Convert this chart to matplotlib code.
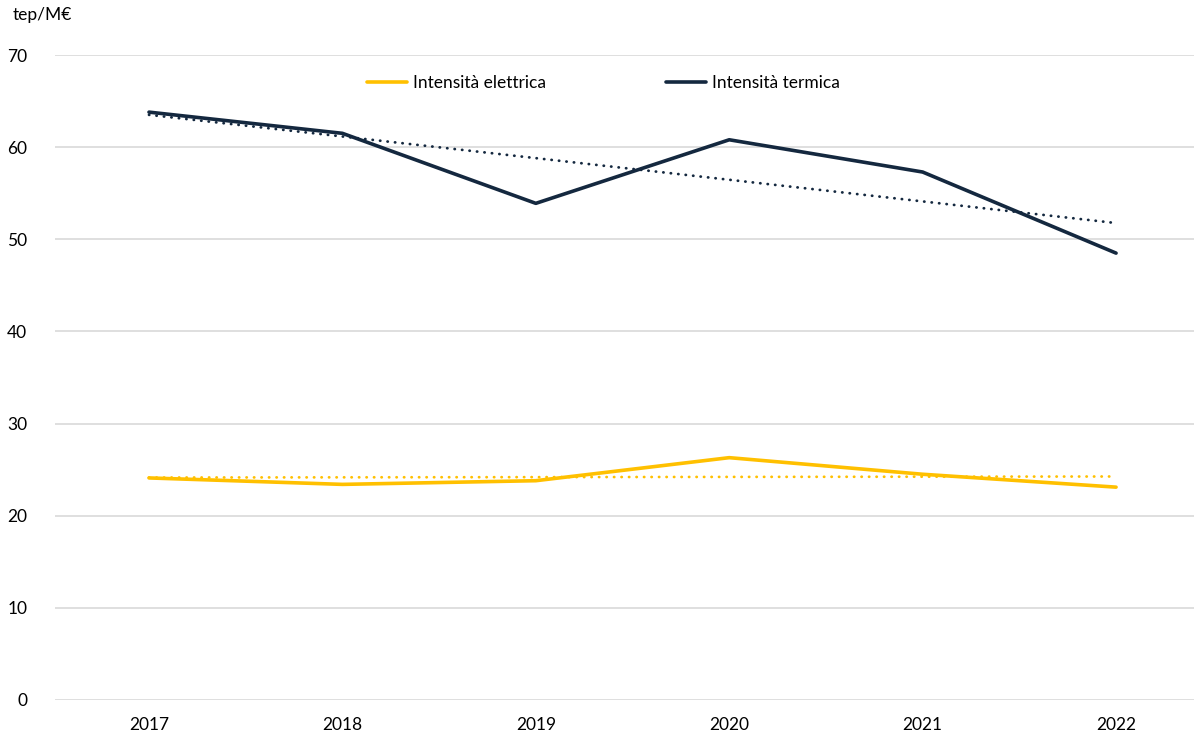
import numpy as np
import matplotlib.pyplot as plt

plt.rcParams['font.family'] = ['Lato', 'DejaVu Sans']

years = ['2017', '2018', '2019', '2020', '2021', '2022']
intensita_elettrica = [24.1, 23.4, 23.8, 26.3, 24.5, 23.1]
intensita_termica = [63.8, 61.5, 53.9, 60.8, 57.3, 48.5]

giallo = '#FFC000'
blu = '#14283F'
griglia = '#D9D9D9'

x = np.arange(len(years))

fig = plt.figure(figsize=(11.94, 7.35), dpi=100)
ax = fig.add_axes([55 / 1194, 35 / 735, 1139 / 1194, 645 / 735])

ax.plot(x, intensita_elettrica, color=giallo, lw=2.6, label='Intensità elettrica',
        solid_capstyle='round', zorder=3)
ax.plot(x, intensita_termica, color=blu, lw=2.6, label='Intensità termica',
        solid_capstyle='round', zorder=3)

# linear trend lines
for serie, col in [(intensita_elettrica, giallo), (intensita_termica, blu)]:
    m, q = np.polyfit(x, serie, 1)
    ax.plot(x, m * x + q, color=col, lw=2.0, linestyle=(0, (0.1, 2.6)),
            dash_capstyle='round', zorder=2)

ax.set_ylim(0, 70)
ax.set_xlim(-0.486, 5.403)
ax.set_yticks(range(0, 71, 10))
ax.set_xticks(x)
ax.set_xticklabels(years)
ax.yaxis.grid(True, color=griglia, lw=1.2)
ax.set_axisbelow(True)
for s in ax.spines.values():
    s.set_visible(False)
ax.tick_params(axis='both', length=0, labelsize=12.5, colors='#000000')
ax.tick_params(axis='y', pad=20)
ax.tick_params(axis='x', pad=12)

fig.text(13 / 1194, 1 - 15 / 735, 'tep/M€', fontsize=12.5, va='center', ha='left')

ax.legend(loc='center', bbox_to_anchor=(0.4816, 0.957), ncol=2, frameon=False,
          fontsize=12.5, handlelength=2.3, handletextpad=0.35, columnspacing=6.9)

fig.savefig('out.png', dpi=100)
